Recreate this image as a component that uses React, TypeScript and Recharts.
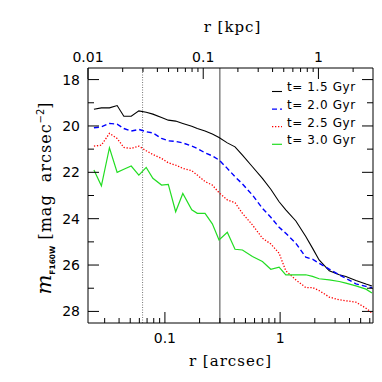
import React from 'react';
import { LineChart, Line, XAxis, YAxis, ReferenceLine, Legend } from 'recharts';

// radius in arcsec (bottom axis)
const radiusArcsec = [
  0.0242, 0.0281, 0.033, 0.0385, 0.044, 0.051, 0.0594, 0.0688, 0.0786, 0.0935,
  0.107, 0.124, 0.143, 0.171, 0.191, 0.223, 0.258, 0.295, 0.348, 0.406,
  0.471, 0.575, 0.702, 0.83, 0.98, 1.12, 1.37, 1.67, 1.91, 2.18,
  2.67, 3.26, 3.72, 4.55, 5.56, 6.27,
];

// surface brightness m_F160W [mag arcsec^-2]
const mag15 = [
  19.28, 19.22, 19.22, 19.12, 19.58, 19.58, 19.35, 19.41, 19.49, 19.64,
  19.75, 19.79, 19.89, 20.01, 20.11, 20.22, 20.35, 20.5, 20.73, 20.9,
  21.26, 21.76, 22.26, 22.73, 23.27, 23.62, 24.1, 24.77, 25.27, 25.78,
  26.25, 26.42, 26.49, 26.67, 26.82, 26.9,
];
const mag20 = [
  20.08, 20.04, 19.89, 19.92, 20.11, 20.22, 20.15, 20.25, 20.3, 20.54,
  20.64, 20.67, 20.73, 20.87, 20.97, 21.16, 21.29, 21.47, 21.83, 22.19,
  22.5, 22.98, 23.55, 23.94, 24.37, 24.63, 25.06, 25.66, 25.75, 25.92,
  26.18, 26.42, 26.57, 26.81, 26.92, 26.98,
];
const mag25 = [
  20.87, 20.83, 20.32, 20.54, 20.93, 20.97, 20.87, 21.07, 21.23, 21.4,
  21.59, 21.69, 21.83, 21.93, 22.12, 22.4, 22.55, 22.88, 23.19, 23.31,
  23.77, 24.27, 24.84, 25.09, 25.49, 26.25, 26.64, 26.97, 26.97, 27.1,
  27.38, 27.5, 27.54, 27.6, 27.86, 28.07,
];
const mag30 = [
  21.9, 22.58, 20.94, 22.0, 21.87, 21.73, 22.12, 21.79, 22.26, 22.55,
  22.52, 23.7, 22.91, 23.62, 23.77, 23.77, 24.22, 24.92, 24.59, 25.32,
  25.35, 25.63, 25.85, 26.18, 26.09, 26.42, 26.42, 26.42, 26.49, 26.59,
  26.64, 26.71, 26.78, 26.9, 27.04, 27.21,
];

const seriesKeys = ['m15', 'm20', 'm25', 'm30'];
const seriesLabels = ['t= 1.5 Gyr', 't= 2.0 Gyr', 't= 2.5 Gyr', 't= 3.0 Gyr'];
const seriesColors = ['#000000', '#0000ff', '#ff0000', '#22dd22'];
const seriesDash = [undefined, '5 3', '1.3 1.7', undefined];
const seriesWidth = [1.1, 1.4, 1.3, 1.2];

const xTicksArcsec = [0.03, 0.04, 0.05, 0.06, 0.07, 0.08, 0.09, 0.1, 0.2, 0.3, 0.4, 0.5, 0.6, 0.7, 0.8, 0.9, 1, 2, 3, 4, 5, 6];
const xTicksKpc = [0.01, 0.02, 0.03, 0.04, 0.05, 0.06, 0.07, 0.08, 0.09, 0.1, 0.2, 0.3, 0.4, 0.5, 0.6, 0.7, 0.8, 0.9, 1, 2];
const yTicks = [18, 19, 20, 21, 22, 23, 24, 25, 26, 27, 28];

const arcsecDomain = [0.0215, 6.4];
const kpcPerArcsec = 0.465;
const kpcDomain = [arcsecDomain[0] * kpcPerArcsec, arcsecDomain[1] * kpcPerArcsec];
const magDomain = [17.5, 28.5];

const dottedLineArcsec = 0.064;
const solidLineArcsec = 0.3;

const data = radiusArcsec.map((r, i) => ({
  r,
  rKpc: r * kpcPerArcsec,
  m15: mag15[i],
  m20: mag20[i],
  m25: mag25[i],
  m30: mag30[i],
}));

const numFont = 'DejaVu Sans, sans-serif';
const titleFont = 'DejaVu Serif, serif';

const isDecade = (v: number) => Math.abs(Math.log10(v) - Math.round(Math.log10(v))) < 1e-6;

const BottomTick = (props: any) => {
  const { x, y, payload } = props;
  const v = payload.value;
  const major = isDecade(v);
  return (
    <g>
      <line x1={x} x2={x} y1={y} y2={y - (major ? 11 : 5)} stroke="#000" strokeWidth={1} />
      {major && (
        <text x={x} y={y + 20} textAnchor="middle" fontFamily={numFont} fontSize={14} fill="#000">
          {String(v)}
        </text>
      )}
    </g>
  );
};

const TopTick = (props: any) => {
  const { x, y, payload } = props;
  const v = payload.value;
  const major = isDecade(v);
  return (
    <g>
      <line x1={x} x2={x} y1={y} y2={y + (major ? 11 : 4)} stroke="#000" strokeWidth={1} />
      {major && (
        <text x={x} y={y - 6} textAnchor="middle" fontFamily={numFont} fontSize={14} fill="#000">
          {String(v)}
        </text>
      )}
    </g>
  );
};

const LeftTick = (props: any) => {
  const { x, y, payload } = props;
  const v = payload.value;
  const major = v % 2 === 0;
  return (
    <g>
      <line x1={x} x2={x + (major ? 11 : 6)} y1={y} y2={y} stroke="#000" strokeWidth={1} />
      {major && (
        <text x={x - 8} y={y + 5} textAnchor="end" fontFamily={numFont} fontSize={14} fill="#000">
          {String(v)}
        </text>
      )}
    </g>
  );
};

const RightTick = (props: any) => {
  const { x, y, payload } = props;
  const v = payload.value;
  const major = v % 2 === 0;
  return (
    <g>
      <line x1={x} x2={x - (major ? 11 : 6)} y1={y} y2={y} stroke="#000" strokeWidth={1} />
    </g>
  );
};

const renderYLabel = (props: any) => {
  const vb = props.viewBox || { x: 0, y: 60, width: 80, height: 255 };
  const cx = vb.x + 43;
  const cy = vb.y + vb.height / 2 + 3;
  return (
    <text
      x={cx}
      y={cy}
      transform={`rotate(-90 ${cx} ${cy})`}
      textAnchor="middle"
      fill="#000"
      style={{ whiteSpace: 'pre' }}
    >
      <tspan fontFamily={titleFont} fontStyle="italic" fontSize={21}>m</tspan>
      <tspan fontFamily={numFont} fontWeight="bold" fontSize={7.5} dy={4}>F160W</tspan>
      <tspan fontFamily={titleFont} fontSize={16} letterSpacing={1} dy={-4}>{' [mag  arcsec'}</tspan>
      <tspan fontFamily={numFont} fontSize={10} dy={-7}>−2</tspan>
      <tspan fontFamily={titleFont} fontSize={16} dy={7}>]</tspan>
    </text>
  );
};

const renderBottomLabel = (props: any) => {
  const vb = props.viewBox || { x: 80, y: 315, width: 285, height: 59 };
  return (
    <text x={vb.x + vb.width / 2} y={vb.y + 43} textAnchor="middle" fontFamily={titleFont} fontSize={15} letterSpacing={1} fill="#000">
      r [arcsec]
    </text>
  );
};

const renderTopLabel = (props: any) => {
  const vb = props.viewBox || { x: 80, y: 0, width: 285, height: 60 };
  return (
    <text x={vb.x + vb.width / 2 + 2} y={vb.y + 24} textAnchor="middle" fontFamily={titleFont} fontSize={15} letterSpacing={1} fill="#000">
      r [kpc]
    </text>
  );
};

const renderLegend = () => (
  <svg width={110} height={75} style={{ display: 'block' }}>
    {seriesLabels.map((label, i) => (
      <g key={label}>
        <line
          x1={2}
          x2={12}
          y1={13.5 + 17.6 * i}
          y2={13.5 + 17.6 * i}
          stroke={seriesColors[i]}
          strokeWidth={seriesWidth[i]}
          strokeDasharray={seriesDash[i]}
        />
        <text x={17} y={13.3 + 17.6 * i} fontFamily={numFont} fontSize={12} letterSpacing={0.6} fill="#000">
          {label}
        </text>
      </g>
    ))}
  </svg>
);

export default function App() {
  return (
    <div style={{ width: 374, height: 374, background: '#fff' }}>
      <LineChart width={374} height={374} data={data} margin={{ top: 0, right: 0, bottom: 0, left: 0 }}>
        <XAxis
          xAxisId="bottom"
          dataKey="r"
          type="number"
          scale="log"
          domain={arcsecDomain}
          allowDataOverflow
          ticks={xTicksArcsec}
          interval={0}
          height={59}
          tickSize={0}
          tickMargin={0}
          tick={BottomTick}
          tickLine={false}
          axisLine={{ stroke: '#000' }}
          label={renderBottomLabel}
        />
        <XAxis
          xAxisId="top"
          orientation="top"
          dataKey="rKpc"
          type="number"
          scale="log"
          domain={kpcDomain}
          allowDataOverflow
          ticks={xTicksKpc}
          interval={0}
          height={60}
          tickSize={0}
          tickMargin={0}
          tick={TopTick}
          tickLine={false}
          axisLine={{ stroke: '#000' }}
          label={renderTopLabel}
        />
        <YAxis
          yAxisId="left"
          type="number"
          domain={magDomain}
          reversed
          allowDataOverflow
          ticks={yTicks}
          interval={0}
          width={80}
          tickSize={0}
          tickMargin={0}
          tick={LeftTick}
          tickLine={false}
          axisLine={{ stroke: '#000' }}
          label={renderYLabel}
        />
        <YAxis
          yAxisId="right"
          orientation="right"
          type="number"
          domain={magDomain}
          reversed
          allowDataOverflow
          ticks={yTicks}
          interval={0}
          width={9}
          tickSize={0}
          tickMargin={0}
          tick={RightTick}
          tickLine={false}
          axisLine={{ stroke: '#000' }}
        />
        <ReferenceLine xAxisId="bottom" yAxisId="left" x={dottedLineArcsec} stroke="#777" strokeDasharray="1 1.5" strokeWidth={1} />
        <ReferenceLine xAxisId="bottom" yAxisId="left" x={solidLineArcsec} stroke="#444" strokeWidth={1} />
        {/* invisible companion series so the top (kpc) and right axes are drawn */}
        <Line
          xAxisId="top"
          yAxisId="right"
          dataKey="m15"
          stroke="none"
          dot={false}
          activeDot={false}
          legendType="none"
          isAnimationActive={false}
        />
        {seriesKeys.map((k, i) => (
          <Line
            key={k}
            xAxisId="bottom"
            yAxisId="left"
            dataKey={k}
            name={seriesLabels[i]}
            type="linear"
            stroke={seriesColors[i]}
            strokeWidth={seriesWidth[i]}
            strokeDasharray={seriesDash[i]}
            dot={false}
            activeDot={false}
            isAnimationActive={false}
          />
        ))}
        <Legend
          layout="vertical"
          align="center"
          verticalAlign="middle"
          content={renderLegend}
          wrapperStyle={{ left: 262, top: 70, width: 110, height: 75 }}
        />
      </LineChart>
    </div>
  );
}
